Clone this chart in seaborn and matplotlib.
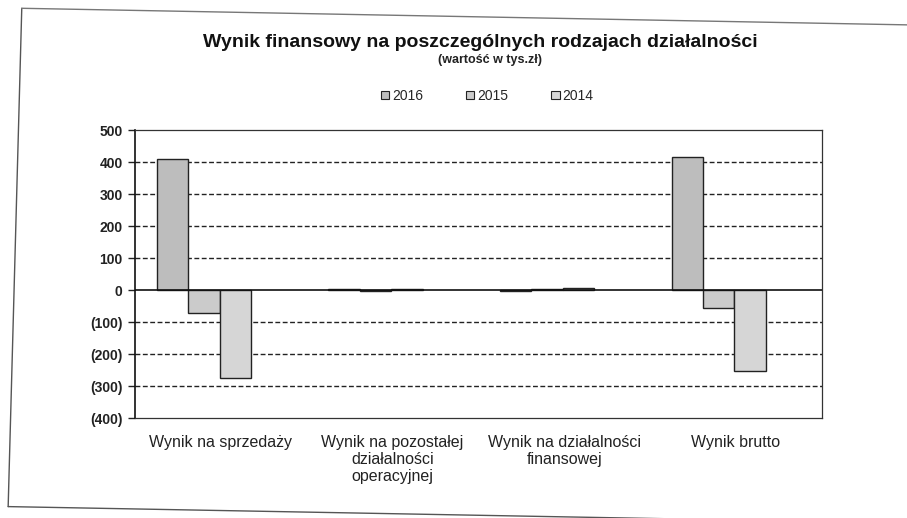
import matplotlib
matplotlib.use("Agg")
import matplotlib.pyplot as plt
import seaborn as sns
import pandas as pd
from matplotlib.ticker import FuncFormatter, FixedLocator
from matplotlib.lines import Line2D
from matplotlib.patches import Patch

categories = ["Wynik na sprzedaży", "Wynik na pozostałej\ndziałalności\noperacyjnej",
              "Wynik na działalności\nfinansowej", "Wynik brutto"]
years = ["2016", "2015", "2014"]
v2016 = [408, 3, -2, 415]
v2015 = [-71, -4, 2, -57]
v2014 = [-275, 2, 5, -254]
yticks = [-400, -300, -200, -100, 0, 100, 200, 300, 400, 500]

rows = []
for y, vals in zip(years, [v2016, v2015, v2014]):
    for c, v in zip(categories, vals):
        rows.append({"cat": c, "year": y, "val": v})
df = pd.DataFrame(rows)

sns.set_theme(style="white")
plt.rcParams["font.family"] = ["Liberation Sans", "DejaVu Sans"]

fig = plt.figure(figsize=(9.07, 5.18), dpi=100)
ax = fig.add_axes([0.149, 0.193, 0.757, 0.556])

palette = {"2016": "#bdbdbd", "2015": "#cbcbcb", "2014": "#d6d6d6"}
sns.barplot(data=df, x="cat", y="val", hue="year", hue_order=years, palette=palette,
            width=0.55, gap=0, edgecolor="#222222", linewidth=1.0, ax=ax, legend=False, zorder=3)

ax.set_xlim(-0.4, 3.6)
ax.set_xticks([i + 0.1 for i in range(len(categories))])
ax.set_xticklabels(categories)

ax.set_ylim(-400, 500)
ax.yaxis.set_major_locator(FixedLocator(yticks))
ax.yaxis.set_major_formatter(FuncFormatter(lambda v, p: f"({abs(int(v))})" if v < 0 else f"{int(v)}"))
for t in yticks:
    if t in (-400, 500):
        continue
    if t == 0:
        ax.axhline(0, color="#111111", lw=1.2, zorder=4)
    else:
        ax.axhline(t, color="#222222", lw=1.0, ls=(0, (3.5, 1.8)), zorder=1)

for s in ax.spines.values():
    s.set_visible(True)
    s.set_color("#333333")
    s.set_linewidth(0.9)
ax.spines["left"].set_linewidth(1.2)
ax.spines["left"].set_color("#111111")

ax.tick_params(axis="y", which="major", left=True, length=5, width=1, color="#222222",
               labelsize=10, labelcolor="#222222", pad=4)
ax.tick_params(axis="x", bottom=False, labelsize=11.5, labelcolor="#222222", pad=6)
for lab in ax.get_yticklabels():
    lab.set_fontweight("bold")
ax.set_xlabel("")
ax.set_ylabel("")

fig.text(0.53, 0.917, "Wynik finansowy na poszczególnych rodzajach działalności",
         ha="center", va="center", fontsize=14, fontweight="bold", color="#111111")
fig.text(0.54, 0.884, "(wartość w tys.zł)", ha="center", va="center",
         fontsize=9, fontweight="bold", color="#222222")

handles = [Patch(facecolor=palette[y], edgecolor="#222222", linewidth=0.8, label=y) for y in years]
fig.legend(handles=handles, loc="center", bbox_to_anchor=(0.537, 0.815), ncol=3, frameon=False,
           fontsize=10, handlelength=0.6, handleheight=0.6, handletextpad=0.2, columnspacing=3.1)

# outer document frame
fig.add_artist(Line2D([0.024, 0.009], [0.984, 0.022], color="#555555", lw=1.0))
fig.add_artist(Line2D([0.024, 1.0], [0.984, 0.952], color="#777777", lw=1.0))
fig.add_artist(Line2D([0.009, 1.0], [0.022, -0.01], color="#555555", lw=1.0))

fig.savefig("out.png", dpi=100)
